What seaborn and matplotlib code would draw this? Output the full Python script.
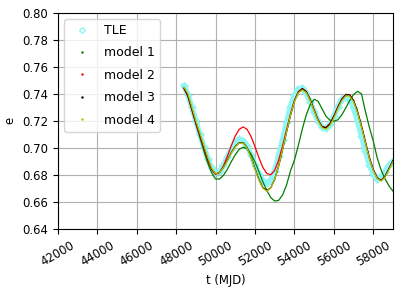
import numpy as np
import pandas as pd
import matplotlib
matplotlib.use('Agg')
import matplotlib.pyplot as plt
from matplotlib.lines import Line2D
import seaborn as sns

plt.rcParams['font.size'] = 8.4

# time grid (MJD), one value every 200 days
t_mjd = np.arange(48400, 59001, 200)

# eccentricity
e_tle = [0.746, 0.739, 0.730, 0.720, 0.710, 0.701, 0.692, 0.685,
         0.6815, 0.683, 0.6873, 0.6932, 0.6993, 0.7041, 0.7064, 0.7055, 0.7014, 0.6949,
         0.6874, 0.6805, 0.6757, 0.674, 0.6764, 0.6832, 0.6943, 0.706, 0.7189, 0.7305,
         0.7392, 0.7439, 0.744, 0.7404, 0.7342, 0.7267, 0.7199, 0.7156, 0.7146, 0.7176,
         0.7236, 0.7306, 0.7359, 0.738, 0.7358, 0.7296, 0.7198, 0.709, 0.6975, 0.6876,
         0.6804, 0.677, 0.6785, 0.6825, 0.6875, 0.690]

e_model1 = [0.744, 0.738, 0.728, 0.718, 0.708, 0.698, 0.689, 0.6815,
            0.677, 0.677, 0.6797, 0.6843, 0.6899, 0.695, 0.699, 0.7005, 0.6994, 0.6955,
            0.6896, 0.6824, 0.6749, 0.6685, 0.6632, 0.6607, 0.6612, 0.6652, 0.6726, 0.683,
            0.691, 0.702, 0.714, 0.7245, 0.732, 0.736, 0.7345, 0.729, 0.7235, 0.7205,
            0.7198, 0.7208, 0.7244, 0.7295, 0.735, 0.7395, 0.7419, 0.740, 0.727, 0.7153,
            0.705, 0.6925, 0.6835, 0.677, 0.6718, 0.668]

e_model2 = [0.744, 0.738, 0.728, 0.718, 0.709, 0.700, 0.691, 0.684,
            0.6805, 0.6818, 0.6867, 0.6939, 0.7018, 0.7089, 0.7138, 0.7156, 0.7137, 0.7084,
            0.7009, 0.6927, 0.6855, 0.6811, 0.6801, 0.6835, 0.691, 0.7016, 0.7135, 0.7252,
            0.7352, 0.7417, 0.744, 0.7418, 0.7358, 0.7281, 0.7207, 0.7159, 0.7152, 0.7181,
            0.7237, 0.7303, 0.7362, 0.7395, 0.7394, 0.7351, 0.7269, 0.7163, 0.7044, 0.6928,
            0.6839, 0.6778, 0.676, 0.679, 0.6845, 0.6905]

e_model3 = [0.7445, 0.739, 0.729, 0.719, 0.710, 0.701, 0.692, 0.6845,
            0.6808, 0.6818, 0.6857, 0.691, 0.6966, 0.7012, 0.7038, 0.7040, 0.7003, 0.6934,
            0.6848, 0.6766, 0.6706, 0.6685, 0.6705, 0.6768, 0.6866, 0.6988, 0.7118, 0.7242,
            0.7345, 0.7412, 0.7438, 0.7415, 0.7356, 0.7279, 0.7205, 0.7156, 0.7148, 0.7176,
            0.7232, 0.7299, 0.7358, 0.7392, 0.7392, 0.7350, 0.7268, 0.7162, 0.7043, 0.6927,
            0.6838, 0.6777, 0.6758, 0.6792, 0.6848, 0.6908]

e_model4 = [0.745, 0.740, 0.730, 0.720, 0.711, 0.702, 0.693, 0.685,
            0.681, 0.6818, 0.6855, 0.6906, 0.6961, 0.7008, 0.7035, 0.7037, 0.6999, 0.6929,
            0.6842, 0.676, 0.6701, 0.668, 0.6703, 0.6768, 0.6868, 0.699, 0.712, 0.7243,
            0.7342, 0.7408, 0.743, 0.7409, 0.735, 0.7274, 0.720, 0.715, 0.7139, 0.7166,
            0.7222, 0.729, 0.735, 0.7385, 0.7384, 0.7341, 0.7260, 0.7154, 0.7036, 0.6920,
            0.6833, 0.6773, 0.6755, 0.6785, 0.684, 0.690]

models = {'model 1': e_model1, 'model 2': e_model2,
          'model 3': e_model3, 'model 4': e_model4}
model_colors = ['g', 'r', 'k', 'y']
tle_color = '#8ff5f5'

fig, ax = plt.subplots(figsize=(3.99, 2.91), dpi=100)
fig.subplots_adjust(left=0.145, right=0.985, top=0.956, bottom=0.213)

# TLE band: thick line underneath plus diamond markers
sns.lineplot(x=t_mjd, y=e_tle, color=tle_color, linewidth=4, ax=ax, legend=False)
sns.scatterplot(x=t_mjd, y=e_tle, marker='D', s=16, color=tle_color,
                edgecolor=tle_color, linewidth=0.5, ax=ax, legend=False)

for (name, vals), c in zip(models.items(), model_colors):
    sns.lineplot(x=t_mjd, y=vals, color=c, linewidth=0.9, ax=ax, legend=False)

handles = [Line2D([], [], marker='D', linestyle='', markersize=3,
                  markerfacecolor='none', markeredgecolor=tle_color, label='TLE')]
for name, c in zip(models.keys(), model_colors):
    handles.append(Line2D([], [], marker='.', linestyle='', markersize=1.5,
                          color=c, label=name))
ax.legend(handles=handles, loc='upper left', labelspacing=0.75, fontsize=9)

ax.set_xlim(42000, 59000)
ax.set_ylim(0.64, 0.80)
ax.set_xticks(np.arange(42000, 58001, 2000))
ax.set_yticks(np.arange(0.64, 0.801, 0.02))
ax.set_yticklabels([f'{v:.2f}' for v in np.arange(0.64, 0.801, 0.02)])
plt.setp(ax.get_xticklabels(), rotation=30, ha='center')
ax.grid(True)
ax.set_xlabel('t (MJD)')
ax.set_ylabel('e')

fig.savefig('out.png', dpi=100)
